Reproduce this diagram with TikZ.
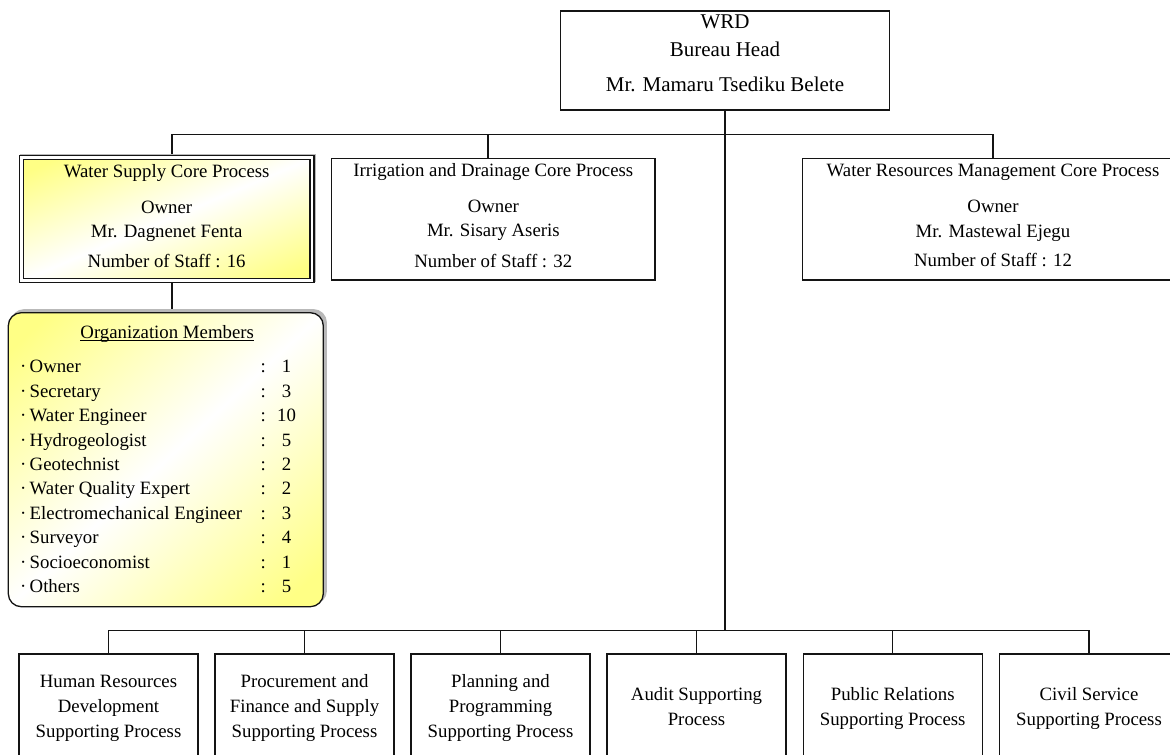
\documentclass[tikz,border=0pt]{standalone}
\usepackage{fontspec}
\setmainfont{Liberation Serif}
\usetikzlibrary{shadows,backgrounds}
\definecolor{lineC}{RGB}{20,20,20}
\pgfdeclarefunctionalshading{diagy}{\pgfpointorigin}{\pgfpoint{100bp}{100bp}}{}{
  sub abs 0.023 mul dup 1 gt {pop 1} if 0.48 mul 1 exch sub 1 1 3 -1 roll
}
\newcommand\myul[1]{\setbox0\hbox{#1}\rlap{\rule[-2.6pt]{\wd0}{0.9pt}}\box0}
\begin{document}
\begin{tikzpicture}[x=1pt,y=-1pt,
  every node/.style={font=\fontsize{18.8}{24.7}\selectfont, text=black},
  box/.style={draw=lineC, line width=1.3pt, fill=white, rectangle, inner sep=0pt, outer sep=0pt, align=center,
    execute at begin node=\strut, execute at end node=\strut},
  topbox/.style={box, minimum height=121.7pt},
  botbox/.style={box, font=\fontsize{18.8}{25}\selectfont, minimum width=179pt, minimum height=112pt},
  conn/.style={draw=lineC, line width=1.4pt},
  rowtxt/.style={anchor=base west, inner sep=0pt},
  rowmid/.style={anchor=base, inner sep=0pt}]
\useasboundingbox (0,0) rectangle (1170,755);
\clip (0,0) rectangle (1170,755);

% head
\node[box, font=\fontsize{21}{28.3}\selectfont, minimum width=328.6pt, minimum height=99pt,
  execute at end node={\strut\rule[-14.1pt]{0pt}{0pt}}] (wrd) at (725,60.5)
  {WRD\\Bureau Head\\[6.7pt]Mr. Mamaru Tsediku Belete};

% core processes
\node[topbox, minimum width=290.7pt, minimum height=122.9pt, line width=1.2pt, double=white, double distance=2.8pt,
  shading=diagy,
  general shadow={draw=gray!55, fill=gray!55, line width=5.2pt, shadow xshift=1.5pt, shadow yshift=1.5pt}]
  (ws) at (166.65,219.25)
  {Water Supply Core Process\\[11.3pt]Owner\\Mr. Dagnenet Fenta\\[4.6pt]Number of Staff : 16};
\node[topbox, minimum width=323.3pt] (irr) at (493.35,219.15)
  {Irrigation and Drainage Core Process\\[11.3pt]Owner\\Mr. Sisary Aseris\\[6pt]Number of Staff : 32};
\node[topbox, minimum width=380.6pt] (wrm) at (993,219.15)
  {Water Resources Management Core Process\\[11.3pt]Owner\\Mr. Mastewal Ejegu\\[5pt]Number of Staff : 12};

% organization members
\node[draw=lineC, line width=1.3pt, rectangle, rounded corners=13pt, inner sep=0pt,
  minimum width=315pt, minimum height=294pt, shading=diagy,
  general shadow={draw=gray!55, fill=gray!55, line width=1.3pt, shadow xshift=3pt, shadow yshift=3pt}]
  (org) at (165.8,459.7) {};
\node[rowmid] (orgtitle) at (167.2,338.3) {\myul{Organization Members}};
\foreach \n/\v [count=\i from 0] in {Owner/1, Secretary/3, Water Engineer/10, Hydrogeologist/5,
  Geotechnist/2, Water Quality Expert/2, Electromechanical Engineer/3, Surveyor/4,
  Socioeconomist/1, Others/5}{
  \node[rowtxt] (mem\i) at (20,{372.7+24.44*\i}) {\makebox[9.5pt][l]{·}\n};
  \node[rowmid] (col\i) at (263.3,{372.7+24.44*\i}) {:};
  \node[rowmid] (num\i) at (286.5,{372.7+24.44*\i}) {\v};
}

% supporting processes
\node[botbox] (hr) at (108.5,710) {Human Resources\\Development\\Supporting Process};
\node[botbox] (pf) at (304.5,710) {Procurement and\\Finance and Supply\\Supporting Process};
\node[botbox] (pp) at (500.5,710) {Planning and\\Programming\\Supporting Process};
\node[botbox] (au) at (696.5,710) {Audit Supporting\\Process};
\node[botbox] (pr) at (892.7,710) {Public Relations\\Supporting Process};
\node[botbox] (cs) at (1089,710) {Civil Service\\Supporting Process};

% connectors
\begin{pgfonlayer}{background}
\coordinate (tb) at (725,134.3);
\coordinate (bb) at (725,630.7);
\draw[conn] (wrd.south) -- (bb);
\draw[conn] ([xshift=5.3pt]ws.north) |- (tb) -| (wrm.north);
\draw[conn] (tb) -| ([xshift=-5.3pt]irr.north);
\draw[conn] ([xshift=5.3pt]ws.south) -- ([xshift=5.3pt]ws.south |- org.north);
\foreach \b in {hr,pf,pp,au,pr,cs}{
  \draw[conn] (bb) -| (\b.north);
}
\end{pgfonlayer}
\end{tikzpicture}
\end{document}
